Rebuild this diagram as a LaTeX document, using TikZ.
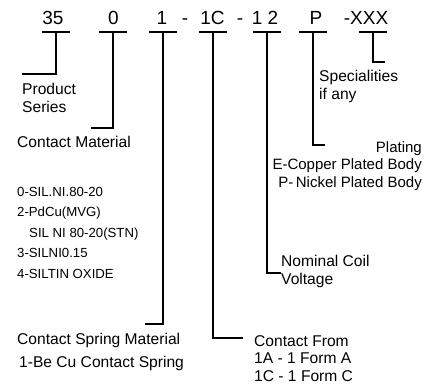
\documentclass[tikz,border=0pt]{standalone}
\usepackage{fontspec}
\setmainfont{Liberation Sans}
\usetikzlibrary{positioning}
\tikzset{
  code/.style={font=\fontsize{19}{19}\selectfont, inner sep=0pt, anchor=base},
  lbl/.style={font=\fontsize{15.6}{17.5}\selectfont, inner sep=0pt, align=left, anchor=north west},
  lblr/.style={lbl, font=\fontsize{15}{17.8}\selectfont, align=right, anchor=north east},
  smalllbl/.style={font=\fontsize{13.2}{20.5}\selectfont, inner sep=0pt, align=left, anchor=north west},
  bar/.style={line width=2pt},
  lead/.style={line width=2pt},
}
\begin{document}
\begin{tikzpicture}[x=1pt,y=-1pt]
    \useasboundingbox (0,0) rectangle (438,385);
    % code parts
    \node[code] (series)  at (53,25)  {35};
    \node[code] (mat)     at (113.5,25) {0};
    \node[code] (spring)  at (162,25) {1};
    \node[code] (dasha)   at (185,25) {-};
    \node[code] (form)    at (212.5,25) {1C};
    \node[code] (dashb)   at (240,25) {-};
    \node[code] (coil)    at (265,25) {1 2};
    \node[code] (plating) at (316,25) {P};
    \node[code] (special) at (366,25) {-XXX};
    % bar tops and lead ends
    \foreach \nm/\xi/\xe/\ye in {
        series/56/22/74, mat/113/91/128, spring/163/145/324,
        form/213/243/338, coil/267/281/273, plating/313/325/145,
        special/373/385/62}{
        \coordinate (\nm-top) at (\xi,32);
        \coordinate (\nm-end) at (\xe,\ye);
        \draw[bar] ([xshift=-14pt]\nm-top) -- ([xshift=14pt]\nm-top);
        \draw[lead] (\nm-top) |- (\nm-end);
    }
    % labels
    \node[lbl] (seriesl) at (22,83) {Product\\Series};
    \node[lbl] (matl) at (17,136) {Contact Material};
    \node[smalllbl] (matlist) at (17,187)
        {0-SIL.NI.80-20\\2-PdCu(MVG)\\\hspace*{12pt}SIL NI 80-20(STN)\\3-SILNI0.15\\4-SILTIN OXIDE};
    \node[lbl] (springl) at (17,333) {Contact Spring Material};
    \node[lbl] (springv) at (19,356) {1-Be Cu Contact Spring};
    \node[lbl] (forml) at (254,335) {Contact From\\1A - 1 Form A\\1C - 1 Form C};
    \node[lbl] (coill) at (281,255) {Nominal Coil\\Voltage};
    \node[lblr] (platingl) at (422,141) {Plating\\E-Copper Plated Body\\P-\,Nickel Plated Body};
    \node[lbl] (speciall) at (319,70) {Specialities\\if any};
\end{tikzpicture}
\end{document}
